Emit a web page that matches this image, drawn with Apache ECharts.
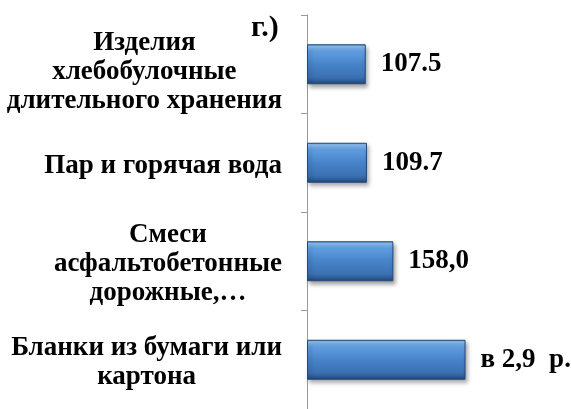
<!DOCTYPE html>
<html>
<head>
<meta charset="utf-8">
<script src="https://cdn.jsdelivr.net/npm/echarts@6/dist/echarts.min.js"></script>
<style>
html,body{margin:0;padding:0;background:#fff;}
#chart{width:571px;height:409px;}
</style>
</head>
<body>
<div id="chart"></div>
<script>
var categories = [
  'Изделия\nхлебобулочные\nдлительного хранения',
  'Пар и горячая вода',
  'Смеси\nасфальтобетонные\nдорожные,…',
  'Бланки из бумаги или\nкартона'
];
var values = [107.5, 109.7, 158.0, 290];
var valueLabels = ['107.5', '109.7', '158,0', 'в 2,9  р.'];
var titleText = 'г.)';

var FONT = '"Liberation Serif", "Times New Roman", serif';
var chart = echarts.init(document.getElementById('chart'), null, {renderer: 'canvas'});

var yData = categories.map(function (c, i) {
  return {value: c, textStyle: {padding: [i === 0 ? 16 : 6, 0, 0, 0]}};
});

chart.setOption({
  animation: false,
  backgroundColor: '#ffffff',
  title: {
    text: titleText,
    left: 251,
    top: 13,
    padding: 0,
    textStyle: {fontFamily: FONT, fontWeight: 'bold', fontSize: 30, color: '#000'}
  },
  grid: {left: 307, right: 18, top: 15, bottom: -3, containLabel: false},
  xAxis: {
    type: 'value',
    min: 0,
    max: 450,
    show: false,
    splitLine: {show: false}
  },
  yAxis: {
    type: 'category',
    inverse: true,
    data: yData,
    axisLine: {show: true, lineStyle: {color: '#999999', width: 1}},
    axisTick: {show: true, length: 6, lineStyle: {color: '#999999', width: 1}},
    axisLabel: {
      margin: 25,
      fontFamily: FONT,
      fontWeight: 'bold',
      fontSize: 27,
      color: '#000',
      formatter: function (v) {
        return v.split('\n').map(function (l) { return '{c|' + l + '}'; }).join('\n');
      },
      rich: {
        c: {
          align: 'center',
          fontFamily: FONT,
          fontWeight: 'bold',
          fontSize: 27,
          lineHeight: 29,
          color: '#000'
        }
      }
    }
  },
  series: [{
    type: 'bar',
    data: values,
    barWidth: 40,
    itemStyle: {
      color: new echarts.graphic.LinearGradient(0, 0, 0, 1, [
        {offset: 0, color: '#3f78bd'},
        {offset: 0.05, color: '#8ec2f3'},
        {offset: 0.18, color: '#5f9de0'},
        {offset: 0.5, color: '#4783c9'},
        {offset: 0.82, color: '#3b71b3'},
        {offset: 0.92, color: '#2d5c95'},
        {offset: 1, color: '#213f6a'}
      ]),
      borderColor: '#244a7c',
      borderWidth: 1,
      shadowColor: 'rgba(0,0,0,0.35)',
      shadowBlur: 4,
      shadowOffsetX: 2,
      shadowOffsetY: 3
    },
    label: {
      show: true,
      position: 'right',
      distance: 15,
      formatter: function (p) { return valueLabels[p.dataIndex]; },
      fontFamily: FONT,
      fontWeight: 'bold',
      fontSize: 27,
      color: '#000'
    }
  }]
});
</script>
</body>
</html>
